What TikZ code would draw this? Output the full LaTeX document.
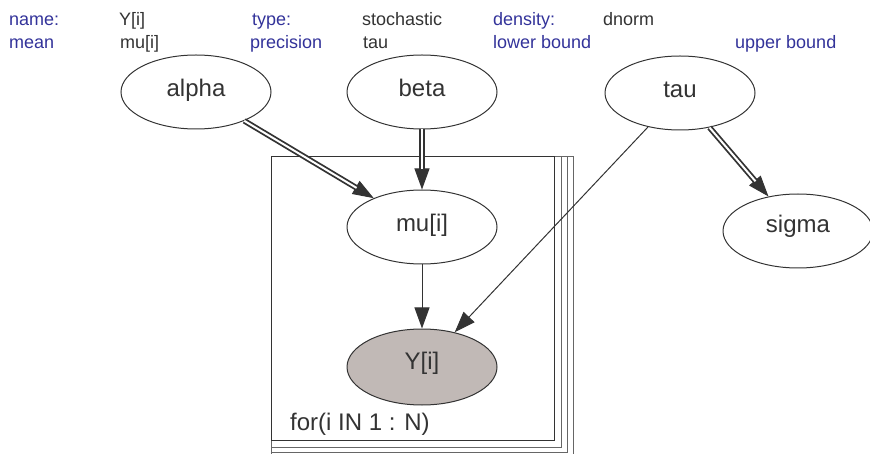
\documentclass[tikz,border=0pt]{standalone}
\usepackage{fontspec}
\setmainfont{Liberation Sans}
\usetikzlibrary{shapes.geometric,arrows.meta}
\definecolor{ink}{HTML}{333333}
\definecolor{lbl}{HTML}{33339A}
\definecolor{obs}{HTML}{C1B9B6}
\definecolor{platec}{HTML}{666666}

\begin{document}
\begin{tikzpicture}[x=1pt,y=-1pt,
  var/.style={ellipse, draw=ink, line width=1pt, minimum width=150pt,
    minimum height=74pt, inner sep=0pt, text=ink, text height=16pt, text depth=6pt,
    font=\fontsize{24}{24}\selectfont},
  raised/.style={text depth=12pt},
  hdr/.style={anchor=base west, inner sep=0pt, font=\fontsize{18}{18}\selectfont},
  key/.style={hdr, text=lbl},
  val/.style={hdr, text=ink},
  stoch/.style={draw=ink, line width=1pt, -{Triangle[length=21pt,width=15pt]}},
  logic/.style={draw=ink, line width=1.8pt, double=white, double distance=2pt,
    shorten >=20pt},
]
\useasboundingbox (0,0) rectangle (870,454);
\clip (0,0) rectangle (870,454);

% node property header
\node[key] (k1) at (9,26)   {name:};
\node[val] (v1) at (119,26) {Y[i]};
\node[key] (k2) at (252,26) {type:};
\node[val] (v2) at (362,26) {stochastic};
\node[key] (k3) at (493,26) {density:};
\node[val] (v3) at (603,26) {dnorm};
\node[key] (k4) at (9,49)   {mean};
\node[val] (v4) at (120,49) {mu[i]};
\node[key] (k5) at (250,49) {precision};
\node[val] (v5) at (363,49) {tau};
\node[key] (k6) at (493,49) {lower bound};
\node[key] (k7) at (735,49) {upper bound};

% plate for(i IN 1 : N), stacked
\draw[platec, line width=1pt] (271,157) rectangle (573,470);
\draw[platec, line width=1pt] (271,157) rectangle (567,452);
\draw[platec, line width=1pt] (271,157) rectangle (561,447);
\draw[ink, line width=1pt] (271,157) rectangle (554,440);
\node[anchor=base west, inner sep=0pt, text=ink, font=\fontsize{24}{24}\selectfont]
  (plab) at (290,430) {for(i IN 1 : N)};

% variables
\node[var] (alpha) at (196,92) {alpha};
\node[var] (beta)  at (422,92) {beta};
\node[var] (tau)   at (680,93) {tau};
\node[var] (mu)    at (422,227) {mu[i]};
\node[var, raised] (sigma) at (798,231) {sigma};
\node[var, raised, fill=obs, minimum height=76pt] (Y) at (422,367) {Y[i]};

% logical links (double) and stochastic links (single)
\draw[stoch] (alpha) -- (mu);
\draw[logic] (alpha) -- (mu);
\draw[stoch] (beta) -- (mu);
\draw[logic] (beta) -- (mu);
\draw[stoch] (tau) -- (sigma);
\draw[logic] (tau) -- (sigma);
\draw[stoch] (mu) -- (Y);
\draw[stoch] (tau) -- (Y);
\end{tikzpicture}
\end{document}
